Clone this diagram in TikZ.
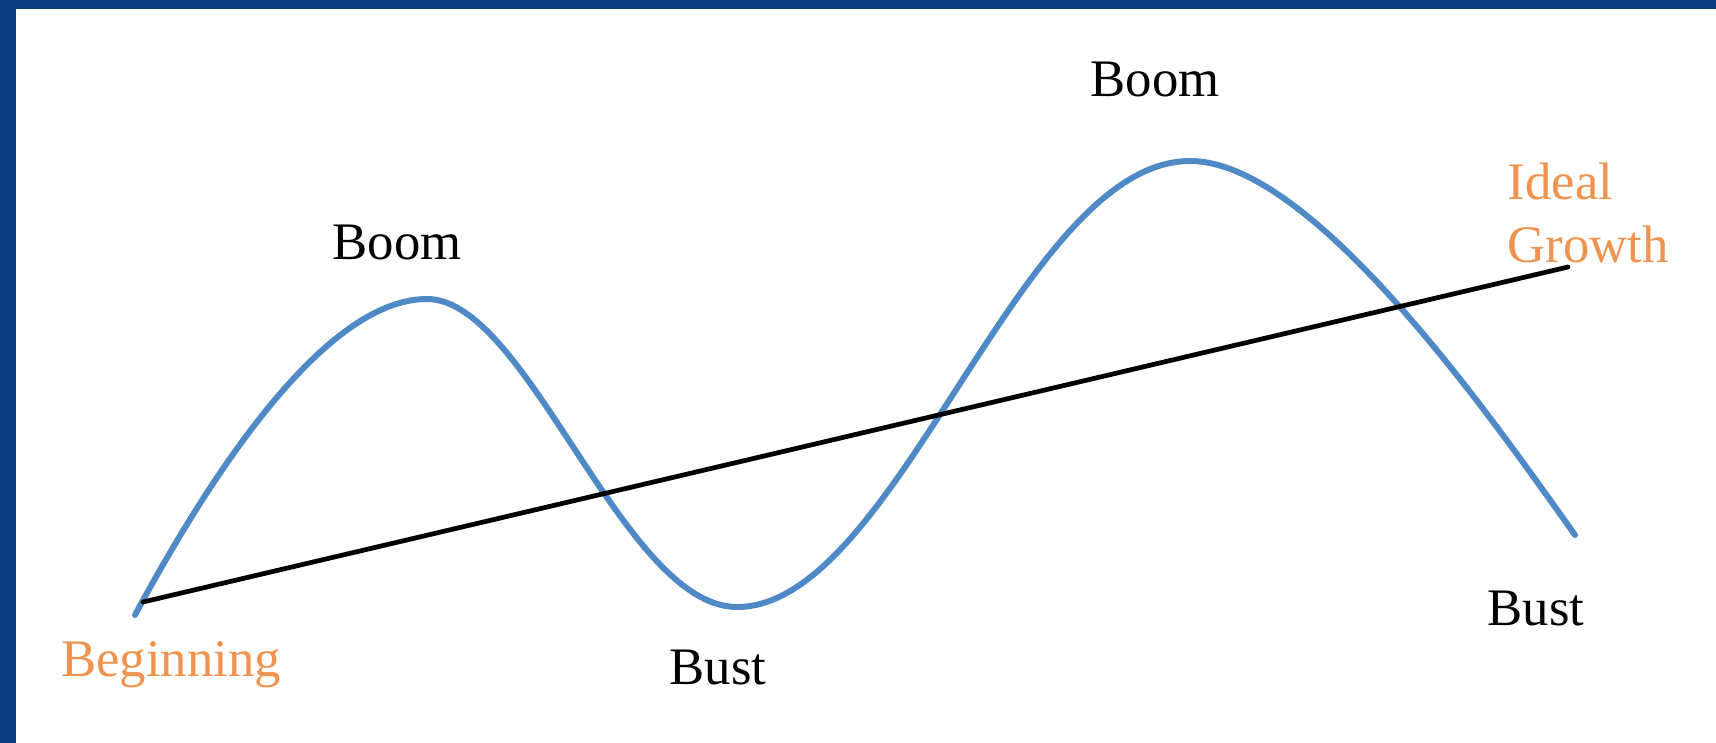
\documentclass[tikz,border=0pt]{standalone}
\usepackage{fontspec}
\setmainfont{Liberation Serif}
\usepackage{tikz}

\definecolor{frameblue}{HTML}{0A3D7E}
\definecolor{waveblue}{HTML}{4F8AC6}
\definecolor{labelorange}{HTML}{EE9450}

\begin{document}
\begin{tikzpicture}[x=0.01cm, y=-0.01cm, line cap=round,
  label/.style={inner sep=0pt, font=\fontsize{15}{18}\selectfont},
  phase/.style={label, anchor=base, text=black},
  milestone/.style={label, text=labelorange},
  wave/.style={draw=waveblue, line width=1.7pt},
  trend/.style={draw=black, line width=1.35pt}]

  \useasboundingbox (0,0) rectangle (1716,743);
  \fill[white] (0,0) rectangle (1716,743);
  \fill[frameblue] (0,0) rectangle (1716,9);
  \fill[frameblue] (0,0) rectangle (16,743);

  \coordinate (start)  at (135,615);
  \coordinate (peak1)  at (427,299);
  \coordinate (trough) at (737,607);
  \coordinate (peak2)  at (1190,161);
  \coordinate (fin)    at (1575,535);
  \coordinate (t0)     at (143,602);
  \coordinate (t1)     at (1568,267);

  \draw[wave] (start) .. controls +(70,-130) and +(-105,0) .. (peak1)
                      .. controls +(101,0) and +(-114,0) .. (trough)
                      .. controls +(160,0) and +(-170,0) .. (peak2)
                      .. controls +(124,0) and +(-80,-112) .. (fin);

  \path (t0) edge[trend] (t1);

  \node[phase] (boom1) at (397,260) {Boom};
  \node[phase] (boom2) at (1155,97) {Boom};
  \node[phase] (bust1) at (718,684) {Bust};
  \node[phase] (bust2) at (1536,625) {Bust};
  \node[milestone, anchor=base] (begin) at (171,676) {Beginning};
  \node[milestone, anchor=north west, align=left] (ideal) at (1507,162) {Ideal\\Growth};

\end{tikzpicture}
\end{document}
